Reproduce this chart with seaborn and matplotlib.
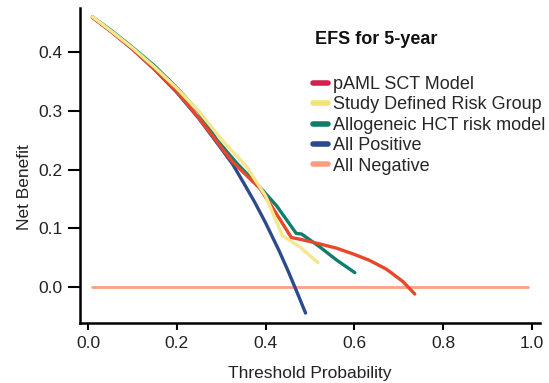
import numpy as np
import pandas as pd
import seaborn as sns
import matplotlib
matplotlib.use("Agg")
import matplotlib.pyplot as plt
from matplotlib.lines import Line2D

# Valores (curva de decisão, EFS 5 anos)
x_pos = [0.01, 0.05, 0.10, 0.15, 0.20, 0.25, 0.30, 0.326, 0.35, 0.375, 0.40, 0.43, 0.45, 0.47, 0.49]
y_pos = [0.460, 0.437, 0.406, 0.371, 0.332, 0.287, 0.236, 0.209, 0.178, 0.145, 0.109, 0.062, 0.028, -0.008, -0.045]

x_neg = [0.01, 0.99]
y_neg = [0.0, 0.0]

x_paml = [0.01, 0.05, 0.10, 0.15, 0.20, 0.25, 0.30, 0.326, 0.387, 0.409, 0.458, 0.484,
          0.522, 0.559, 0.597, 0.634, 0.672, 0.709, 0.736]
y_paml = [0.460, 0.437, 0.406, 0.371, 0.333, 0.288, 0.238, 0.213, 0.168, 0.143, 0.084, 0.080,
          0.073, 0.066, 0.056, 0.045, 0.030, 0.009, -0.0125]

x_study = [0.01, 0.05, 0.10, 0.15, 0.20, 0.25, 0.30, 0.357, 0.40, 0.438, 0.477, 0.518]
y_study = [0.461, 0.438, 0.408, 0.375, 0.339, 0.299, 0.252, 0.205, 0.155, 0.087, 0.068, 0.041]

x_hct = [0.01, 0.05, 0.10, 0.15, 0.20, 0.25, 0.29, 0.335, 0.393, 0.425, 0.469, 0.481,
         0.522, 0.559, 0.601]
y_hct = [0.461, 0.439, 0.409, 0.377, 0.340, 0.298, 0.251, 0.211, 0.165, 0.138, 0.091, 0.090,
         0.068, 0.046, 0.024]

rotulos = ['pAML SCT Model', 'Study Defined Risk Group', 'Allogeneic HCT risk model',
           'All Positive', 'All Negative']
cores_linha = ['#E8472A', '#F6E68C', '#0F7E6E', '#2C4A8C', '#FBA083']
cores_legenda = ['#D2214E', '#F2E27A', '#0F7B6C', '#2A4A8E', '#FA9E7E']

sns.set_theme(style="ticks")
plt.rcParams['font.family'] = ['Liberation Sans', 'DejaVu Sans']

fig = plt.figure(figsize=(5.49, 3.83), dpi=100)
ax = fig.add_axes([80 / 549, 1 - 323 / 383, 460 / 549, 315 / 383])

series = [
    (x_neg, y_neg, cores_linha[4], 2.0, 1),
    (x_pos, y_pos, cores_linha[3], 2.4, 2),
    (x_hct, y_hct, cores_linha[2], 2.4, 3),
    (x_paml, y_paml, cores_linha[0], 2.4, 4),
    (x_study, y_study, cores_linha[1], 2.4, 5),
]
for xs, ys, cor, lw, z in series:
    df = pd.DataFrame({'x': xs, 'y': ys})
    sns.lineplot(data=df, x='x', y='y', color=cor, linewidth=lw, ax=ax,
                 estimator=None, sort=False, zorder=z)

ax.set_xlim(-0.018, 1.018)
ax.set_ylim(-0.062, 0.476)
ax.set_xticks([0.0, 0.2, 0.4, 0.6, 0.8, 1.0])
ax.set_yticks([0.0, 0.1, 0.2, 0.3, 0.4])
ax.xaxis.set_major_formatter(matplotlib.ticker.FormatStrFormatter('%.1f'))
ax.yaxis.set_major_formatter(matplotlib.ticker.FormatStrFormatter('%.1f'))
for s in ['top', 'right']:
    ax.spines[s].set_visible(False)
for s in ['left', 'bottom']:
    ax.spines[s].set_linewidth(1.8)
    ax.spines[s].set_color('black')
ax.tick_params(axis='x', length=5.3, width=1.5, pad=4, labelsize=12.5, colors='black',
               labelcolor='#222222')
ax.tick_params(axis='y', length=8.5, width=1.5, pad=4, labelsize=12.5, colors='black',
               labelcolor='#222222')

ax.set_xlabel('Threshold Probability', fontsize=12.5, color='#222222')
ax.set_ylabel('Net Benefit', fontsize=12.5, color='#222222')
ax.xaxis.set_label_coords(0.5, -0.137)
ax.yaxis.set_label_coords(-0.104, 0.43)

handles = [Line2D([0], [0], color=c, linewidth=4) for c in cores_legenda]
fig.legend(handles, rotulos, loc='upper left', bbox_to_anchor=(313 / 549, 1 - 76 / 383),
           frameon=False, fontsize=13, handlelength=0.83, handletextpad=0.3,
           labelspacing=0.19, borderpad=0, borderaxespad=0)
fig.text(315 / 549, 1 - 40 / 383, 'EFS for 5-year', fontsize=13, weight='bold',
         va='center', ha='left', color='#111111')

plt.savefig('out.png', dpi=100)
plt.close()
